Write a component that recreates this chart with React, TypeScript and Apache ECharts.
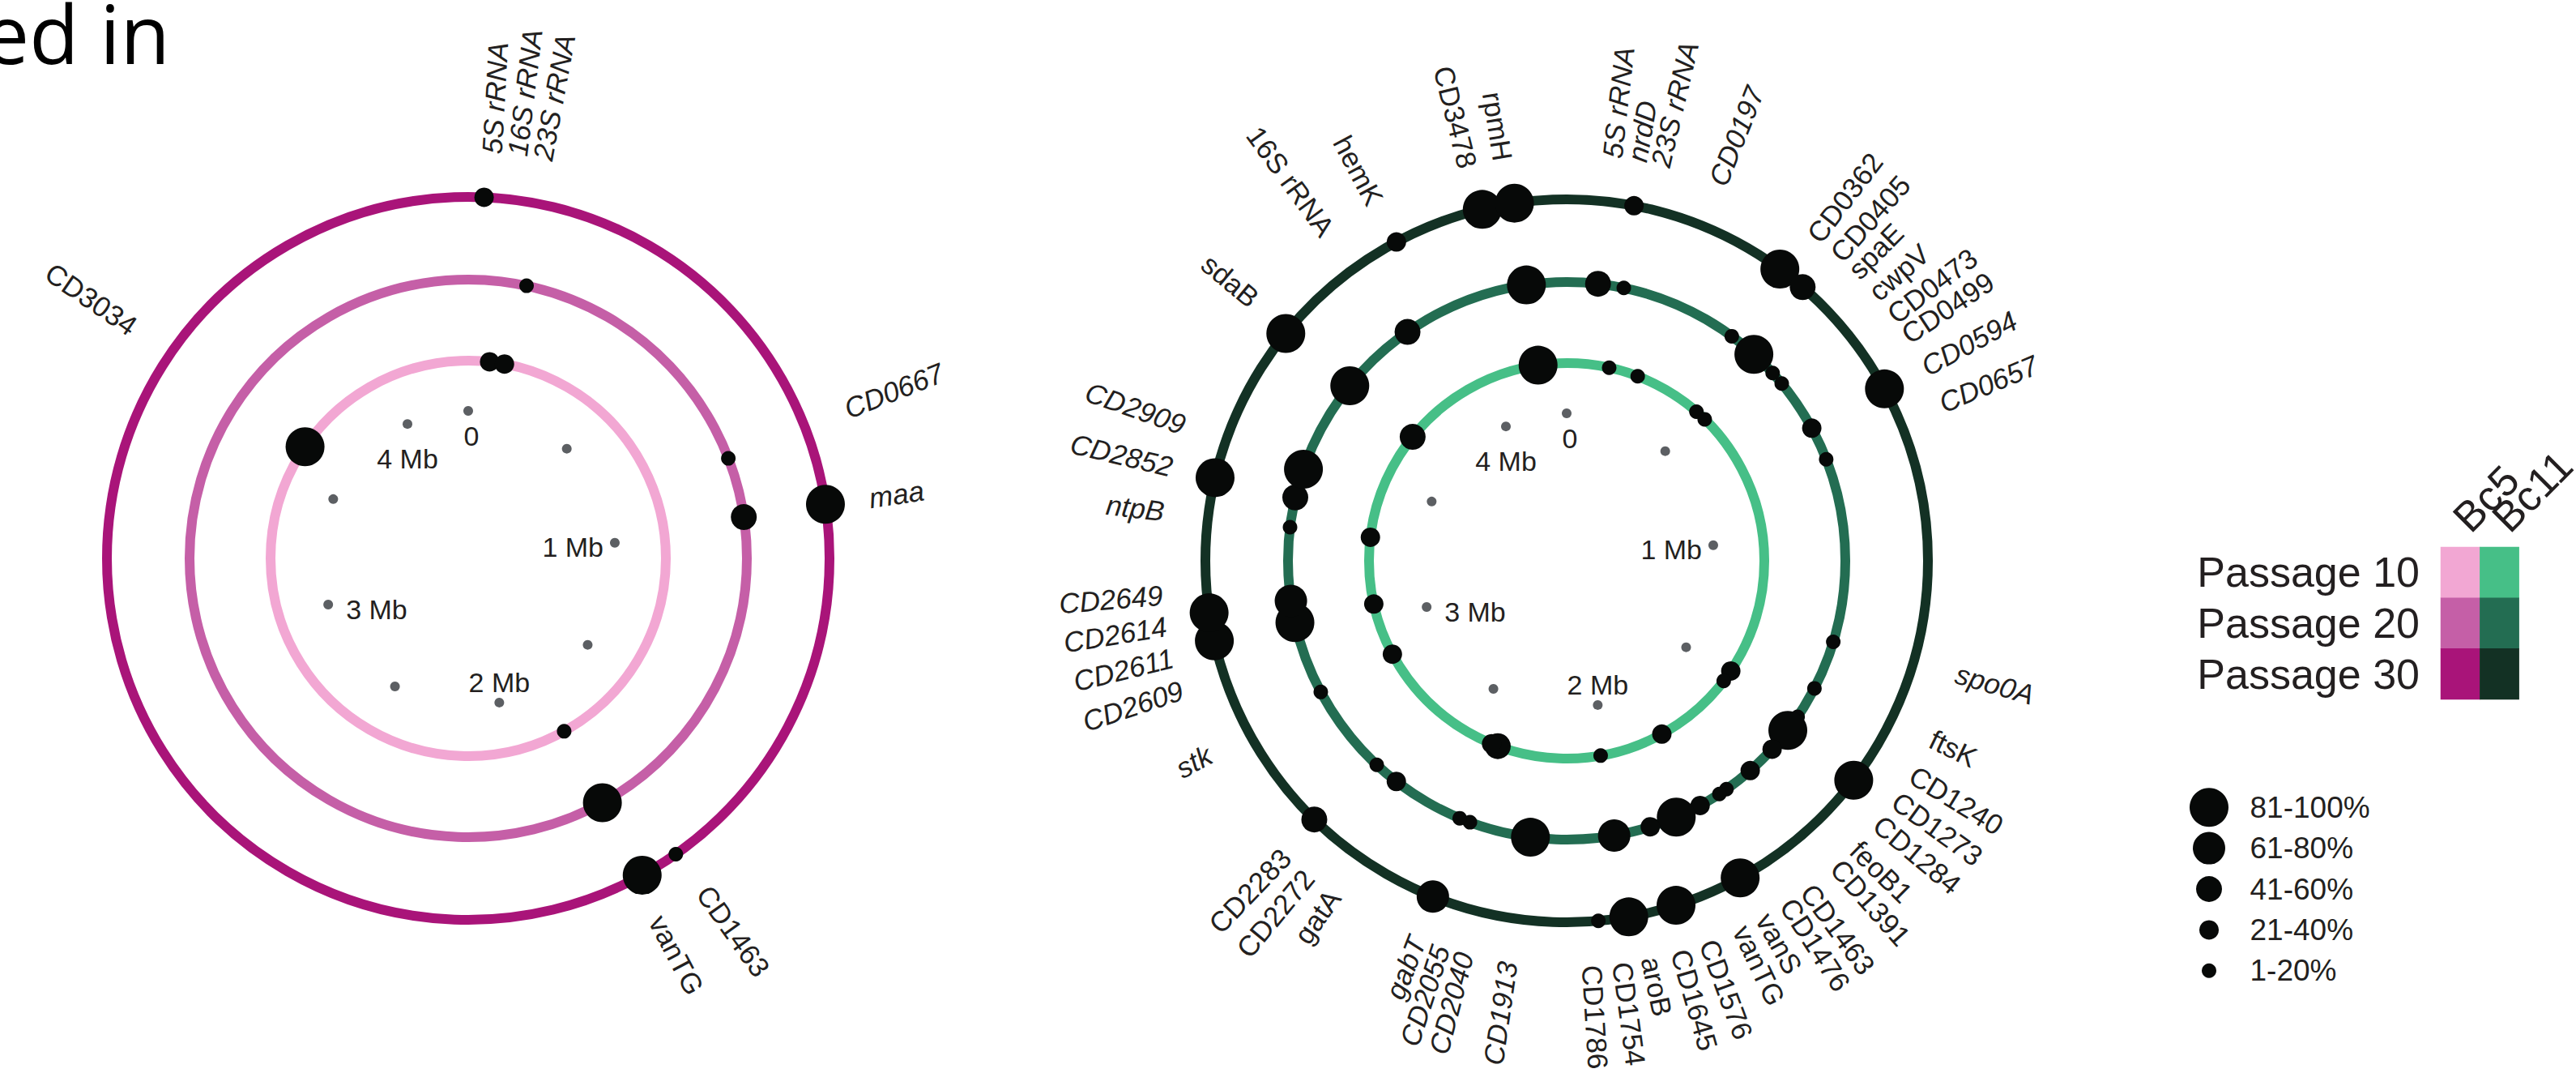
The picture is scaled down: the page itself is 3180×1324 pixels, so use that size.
import React, { useEffect, useRef } from 'react';
import * as echarts from 'echarts';

// ---------------- data ----------------
const GENOME_MB = 4.29;
const TICK_MB = [0, 0.5, 1, 1.5, 2, 2.5, 3, 3.5, 4];
const TICK_LABELS = ['0', '', '1 Mb', '', '2 Mb', '', '3 Mb', '', '4 Mb'];

const PASSAGES = ['Passage 10', 'Passage 20', 'Passage 30'];
const ISOLATES = ['Bc5', 'Bc11'];
// size classes 1..5
const SIZE_CLASSES = ['1-20%', '21-40%', '41-60%', '61-80%', '81-100%'];

// Bc5 (positions in Mb, frequency class 1..5)
const BC5_P10_POS = [0.074, 0.126, 1.799, 3.627];
const BC5_P10_CLS = [2, 2, 1, 5];
const BC5_P20_POS = [0.144, 0.822, 0.971, 1.802];
const BC5_P20_CLS = [1, 1, 3, 5];
const BC5_P30_POS = [0.03, 0.97, 1.727, 1.802];
const BC5_P30_CLS = [2, 5, 1, 5];
const BC5_LABELS = ['5S rRNA', '16S rRNA', '23S rRNA', 'CD0667', 'maa', 'CD1463', 'vanTG', 'CD3034'];
const BC5_LABEL_POS = [0.039, 0.082, 0.125, 0.816, 0.971, 1.723, 1.815, 3.629];

// Bc11
const BC11_P10_POS = [4.191, 0.148, 0.251, 0.489, 0.528, 1.476, 1.518, 1.802, 2.027, 2.388, 2.411, 2.882, 3.067, 3.299, 3.68];
const BC11_P10_CLS = [5, 1, 1, 1, 1, 2, 1, 2, 1, 3, 2, 2, 2, 2, 3];
const BC11_P20_POS = [4.191, 0.077, 0.141, 0.433, 0.503, 0.568, 0.602, 0.734, 0.818, 1.274, 1.397, 1.478, 1.519, 1.579, 1.654, 1.728, 1.749, 1.804, 1.869, 1.937, 2.028, 2.234, 2.387, 2.414, 2.594, 2.657, 2.883, 3.065, 3.119, 3.3, 3.374, 3.446, 3.681, 3.875];
const BC11_P20_CLS = [5, 3, 1, 1, 5, 1, 1, 2, 1, 1, 1, 1, 5, 2, 2, 1, 1, 2, 5, 2, 4, 5, 1, 1, 2, 1, 1, 5, 4, 1, 3, 5, 5, 3];
const BC11_P30_POS = [4.129, 4.191, 3.955, 3.682, 3.376, 0.128, 0.431, 0.486, 0.734, 1.518, 1.803, 1.935, 2.027, 2.085, 2.404, 2.673, 3.065, 3.119];
const BC11_P30_CLS = [5, 5, 2, 5, 5, 2, 5, 3, 5, 5, 5, 5, 5, 1, 4, 3, 5, 5];
const BC11_LABELS = ['5S rRNA', 'nrdD', '23S rRNA', 'CD0197', 'CD0362', 'CD0405', 'spaE', 'cwpV', 'CD0473', 'CD0499', 'CD0594', 'CD0657',
  'spo0A', 'ftsK', 'CD1240', 'CD1273', 'CD1284', 'feoB1', 'CD1391', 'CD1463', 'CD1476', 'vanS', 'vanTG', 'CD1576', 'CD1645', 'aroB', 'CD1754', 'CD1786',
  'CD1913', 'CD2040', 'CD2055', 'gabT', 'gatA', 'CD2272', 'CD2283', 'stk', 'CD2609', 'CD2611', 'CD2614', 'CD2649', 'ntpB', 'CD2852', 'CD2909',
  'sdaB', '16S rRNA', 'hemK', 'CD3478', 'rpmH'];
const BC11_LABEL_POS = [0.076, 0.118, 0.158, 0.259, 0.446, 0.495, 0.535, 0.584, 0.632, 0.672, 0.734, 0.801,
  1.264, 1.381, 1.449, 1.5, 1.549, 1.605, 1.649, 1.712, 1.753, 1.799, 1.842, 1.902, 1.952, 2.003, 2.052, 2.103,
  2.244, 2.319, 2.36, 2.402, 2.562, 2.616, 2.667, 2.88, 2.997, 3.053, 3.107, 3.16, 3.301, 3.377, 3.45,
  3.692, 3.861, 3.956, 4.123, 4.183];

// ---------------- styles ----------------
const FONT = '"Liberation Sans", Arial, Helvetica, sans-serif';
const TEXT = '#231F20';
const DOT = '#070908';
const TICK_DOT = '#5C5F63';
const BC5_COLORS = ['#F2A7D3', '#C55FA7', '#A91479'];
const BC11_COLORS = ['#46BF87', '#236D52', '#133124'];
const SIZE_PX = [18, 24, 32, 40, 48];
const RING_RADII = [244, 344, 446];
const TICK_RADIUS = 182;
const LABEL_RADIUS = 500;

const tickLabelStyle = (t: string): any => {
  switch (t) {
    case '0': return { position: 'bottom', distance: 8, offset: [4, 0] };
    case '1 Mb': return { position: 'left', distance: 8, offset: [0, 5] };
    case '2 Mb': return { position: 'top', distance: 2 };
    case '3 Mb': return { position: 'right', distance: 16, offset: [0, 6] };
    case '4 Mb': return { position: 'bottom', distance: 20 };
    default: return { show: false };
  }
};

function buildOption() {
  const polar: any[] = [];
  const angleAxis: any[] = [];
  const radiusAxis: any[] = [];
  const series: any[] = [];

  // legend: colour grid (series 0)
  const cellColors = [...BC5_COLORS, ...BC11_COLORS];
  const cells: number[][] = [];
  ISOLATES.forEach((_, c) => PASSAGES.forEach((__, r) => cells.push([c, r, c * 3 + r])));
  series.push({
    type: 'heatmap', xAxisIndex: 0, yAxisIndex: 0, data: cells, silent: true,
    itemStyle: { borderWidth: 0, opacity: 1 },
  });
  // legend: size circles (series 1)
  const legendOrder = [5, 4, 3, 2, 1];
  series.push({
    type: 'scatter', xAxisIndex: 1, yAxisIndex: 1, silent: true,
    data: legendOrder.map((cls, i) => [0.5, i, cls]),
    symbolSize: (v: number[]) => SIZE_PX[v[2] - 1],
    itemStyle: { color: DOT, opacity: 1 },
  });

  const addPolar = (center: number[], r: number, lineColor?: string) => {
    const idx = polar.length;
    polar.push({ center, radius: r });
    angleAxis.push({
      polarIndex: idx, type: 'value', min: 0, max: GENOME_MB, startAngle: 90, clockwise: true,
      axisLine: { show: !!lineColor, lineStyle: { color: lineColor || '#000', width: 12 } },
      axisTick: { show: false }, axisLabel: { show: false }, splitLine: { show: false },
      splitArea: { show: false }, minorTick: { show: false }, minorSplitLine: { show: false },
    });
    radiusAxis.push({ polarIndex: idx, type: 'value', min: 0, max: 1, show: false });
    return idx;
  };

  const charts = [
    {
      center: [578, 689], colors: BC5_COLORS,
      rings: [
        { pos: BC5_P10_POS, cls: BC5_P10_CLS },
        { pos: BC5_P20_POS, cls: BC5_P20_CLS },
        { pos: BC5_P30_POS, cls: BC5_P30_CLS },
      ],
      labels: BC5_LABELS, labelPos: BC5_LABEL_POS,
    },
    {
      center: [1934, 692], colors: BC11_COLORS,
      rings: [
        { pos: BC11_P10_POS, cls: BC11_P10_CLS },
        { pos: BC11_P20_POS, cls: BC11_P20_CLS },
        { pos: BC11_P30_POS, cls: BC11_P30_CLS },
      ],
      labels: BC11_LABELS, labelPos: BC11_LABEL_POS,
    },
  ];

  charts.forEach((c) => {
    c.rings.forEach((ring, i) => {
      const idx = addPolar(c.center, RING_RADII[i], c.colors[i]);
      series.push({
        type: 'scatter', coordinateSystem: 'polar', polarIndex: idx, silent: true, z: 5,
        data: ring.pos.map((p, k) => [1, p, ring.cls[k]]),
        symbolSize: (v: number[]) => SIZE_PX[v[2] - 1],
        itemStyle: { color: DOT, opacity: 1 },
      });
    });
    const tIdx = addPolar(c.center, TICK_RADIUS);
    series.push({
      type: 'scatter', coordinateSystem: 'polar', polarIndex: tIdx, silent: true, z: 4,
      data: TICK_MB.map((m, k) => ({ name: TICK_LABELS[k], value: [1, m], label: tickLabelStyle(TICK_LABELS[k]) })),
      symbolSize: 12,
      itemStyle: { color: TICK_DOT, opacity: 1 },
      label: { show: true, formatter: '{b}', fontSize: 34, fontFamily: FONT, color: TEXT, opacity: 1 },
    });
    const lIdx = addPolar(c.center, LABEL_RADIUS);
    series.push({
      type: 'scatter', coordinateSystem: 'polar', polarIndex: lIdx, silent: true, z: 6,
      symbolSize: 1, itemStyle: { color: 'rgba(0,0,0,0)', opacity: 1 },
      data: c.labels.map((name, k) => {
        const theta = (c.labelPos[k] / GENOME_MB) * 360;
        const right = theta < 180;
        const rot = right ? 90 - theta : 270 - theta;
        const italic = (rot >= -25 && rot <= 30) || rot >= 65;
        return {
          name, value: [1, c.labelPos[k]],
          label: { position: right ? 'right' : 'left', rotate: rot, fontStyle: italic ? 'italic' : 'normal' },
        };
      }),
      label: { show: true, formatter: '{b}', distance: 0, fontSize: 35, fontFamily: FONT, color: TEXT, opacity: 1 },
    });
  });

  return {
    animation: false,
    backgroundColor: '#ffffff',
    polar, angleAxis, radiusAxis,
    grid: [
      { left: 3013, top: 675, width: 125, height: 188 },
      { left: 2676.5, top: 971, width: 101, height: 252 },
    ],
    xAxis: [
      {
        gridIndex: 0, type: 'category', data: ISOLATES, position: 'top',
        axisLine: { show: false }, axisTick: { show: false }, splitLine: { show: false },
        axisLabel: { rotate: -45, interval: 0, fontSize: 52, fontFamily: FONT, color: TEXT, margin: 28 },
      },
      { gridIndex: 1, type: 'value', min: 0, max: 1, show: false },
    ],
    yAxis: [
      {
        gridIndex: 0, type: 'category', data: PASSAGES, inverse: true,
        axisLine: { show: false }, axisTick: { show: false }, splitLine: { show: false },
        axisLabel: { interval: 0, fontSize: 52, fontFamily: FONT, color: TEXT, margin: 26 },
      },
      {
        gridIndex: 1, type: 'category', data: legendOrder.map((cls) => SIZE_CLASSES[cls - 1]), inverse: true, position: 'right',
        axisLine: { show: false }, axisTick: { show: false }, splitLine: { show: false },
        axisLabel: { interval: 0, fontSize: 37, fontFamily: FONT, color: TEXT, margin: 0 },
      },
    ],
    visualMap: [{
      type: 'piecewise', show: false, seriesIndex: 0, dimension: 2,
      pieces: cellColors.map((color, i) => ({ value: i, color })),
    }],
    graphic: [{
      type: 'text', x: -20, y: 40, silent: true,
      style: { text: 'ed in', fill: '#000000', font: 'normal 100px "Open Sans"', verticalAlign: 'middle' },
    }],
    series,
  };
}

export default function App() {
  const ref = useRef<HTMLDivElement>(null);
  useEffect(() => {
    document.body.style.margin = '0';
    const chart = echarts.init(ref.current as HTMLDivElement, null, { renderer: 'svg' });
    chart.setOption(buildOption() as any);
    return () => chart.dispose();
  }, []);
  return (
    <div
      ref={ref}
      style={{ position: 'absolute', left: 0, top: 0, width: 3180, height: 1324, background: '#ffffff' }}
    />
  );
}
